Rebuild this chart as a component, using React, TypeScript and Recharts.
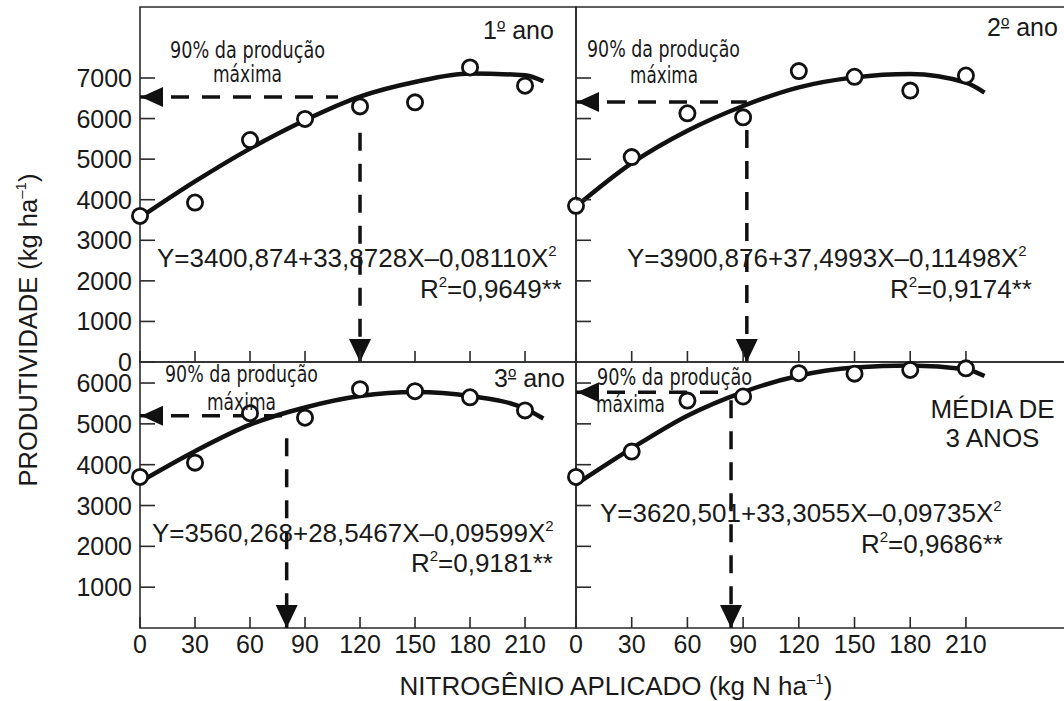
import React from 'react';
import {
  ComposedChart,
  Line,
  Scatter,
  XAxis,
  YAxis,
  ReferenceArea,
  ReferenceLine,
  ReferenceDot,
} from 'recharts';

// doses de N (kg N/ha)
const N_RATES = [0, 30, 60, 90, 120, 150, 180, 210];
const FIT_N = [0, 30, 60, 90, 120, 150, 180, 210, 220];

// produtividade observada (kg/ha)
const OBS_ANO1 = [3600, 3930, 5470, 5990, 6300, 6400, 7260, 6810];
const OBS_ANO2 = [3850, 5050, 6130, 6030, 7170, 7030, 6690, 7060];
const OBS_ANO3 = [3700, 4050, 5260, 5150, 5850, 5800, 5650, 5330];
const OBS_MEDIA = [3700, 4320, 5570, 5670, 6240, 6230, 6320, 6360];

// curva ajustada
const FIT_ANO1 = [3560, 4450, 5260, 5960, 6540, 6900, 7110, 7070, 6920];
const FIT_ANO2 = [3830, 4900, 5700, 6310, 6770, 7015, 7100, 6885, 6640];
const FIT_ANO3 = [3580, 4330, 4980, 5400, 5680, 5780, 5680, 5370, 5130];
const FIT_MEDIA = [3520, 4400, 5200, 5780, 6180, 6380, 6430, 6340, 6170];

// 90% da produção máxima: [produtividade, fim do tracejado horizontal, dose, início do tracejado vertical]
const MAX90_ANO1 = [6530, 108, 120, 5650];
const MAX90_ANO2 = [6410, 92, 92, 5720];
const MAX90_ANO3 = [5200, 79, 80, 4650];
const MAX90_MEDIA = [5775, 77, 83.5, 5580];

const X_TICKS = [0, 30, 60, 90, 120, 150, 180, 210];
const Y_TICKS_TOP = [0, 1000, 2000, 3000, 4000, 5000, 6000, 7000];
const Y_TICKS_BOTTOM = [1000, 2000, 3000, 4000, 5000, 6000];

const INK = '#1a1a1a';
const FRAME = '#2a2a2a';
const FONT = '"Liberation Sans", Arial, Helvetica, sans-serif';
const NARROW = '"Liberation Sans Narrow", "Arial Narrow", "DejaVu Sans Condensed", sans-serif';

const xTick = (labels: boolean) => (p: any) => (
  <g>
    <line x1={p.x} x2={p.x} y1={p.y} y2={p.y - 11} stroke={FRAME} strokeWidth={1.6} />
    {labels && (
      <text x={p.x} y={p.y + 25} textAnchor="middle" fontSize={25} fontFamily={FONT} fill={INK}>
        {p.payload.value}
      </text>
    )}
  </g>
);

const yTick = (labels: boolean) => (p: any) => (
  <g>
    <line x1={p.x} x2={p.x + 15} y1={p.y} y2={p.y} stroke={FRAME} strokeWidth={1.6} />
    {labels && (
      <text x={p.x - 8} y={p.y + 9} textAnchor="end" fontSize={25} fontFamily={FONT} fill={INK}>
        {p.payload.value}
      </text>
    )}
  </g>
);

const Ring = (p: any) => (
  <circle cx={p.cx} cy={p.cy} r={7.6} fill="#fff" stroke="#111" strokeWidth={2.8} />
);

const LeftHead = (p: any) => (
  <path d={`M${p.cx + 1} ${p.cy} L${p.cx + 23} ${p.cy - 10} L${p.cx + 23} ${p.cy + 10} Z`} fill="#111" />
);

const DownHead = (p: any) => (
  <path d={`M${p.cx} ${p.cy} L${p.cx - 11} ${p.cy - 23} L${p.cx + 11} ${p.cy - 23} Z`} fill="#111" />
);

type PanelProps = {
  width: number;
  margin: { top: number; right: number; bottom: number; left: number };
  xMax: number;
  yMax: number;
  yTicks: number[];
  yLabels: boolean;
  xLabels: boolean;
  obs: number[];
  fit: number[];
  max90: number[];
};

function Panel({ width, margin, xMax, yMax, yTicks, yLabels, xLabels, obs, fit, max90 }: PanelProps) {
  const obsData = N_RATES.map((n, i) => ({ n, y: obs[i] }));
  const fitData = FIT_N.map((n, i) => ({ n, y: fit[i] }));
  const [y90, hEnd, n90, vTop] = max90;
  // axis of 1px: plot edge = margin + 1
  const m = { ...margin, left: margin.left - 1, bottom: margin.bottom - 1 };
  return (
    <div style={{ position: 'absolute', left: 0, top: 0 }}>
      <ComposedChart width={width} height={701} margin={m}>
        <XAxis
          type="number"
          dataKey="n"
          domain={[0, xMax]}
          ticks={X_TICKS}
          interval={0}
          height={1}
          tickSize={0}
          tickMargin={0}
          axisLine={false}
          tickLine={false}
          tick={xTick(xLabels)}
        />
        <YAxis
          type="number"
          dataKey="y"
          domain={[0, yMax]}
          ticks={yTicks}
          interval={0}
          width={1}
          tickSize={0}
          tickMargin={0}
          axisLine={false}
          tickLine={false}
          tick={yTick(yLabels)}
        />
        <ReferenceArea x1={0} x2={xMax} y1={0} y2={yMax} fill="none" fillOpacity={0} stroke={FRAME} strokeWidth={1.6} />
        <ReferenceLine
          segment={[{ x: 0, y: y90 }, { x: hEnd, y: y90 }]}
          stroke="#111"
          strokeWidth={3.5}
          strokeDasharray="18 13"
        />
        <ReferenceLine
          segment={[{ x: n90, y: vTop }, { x: n90, y: 0 }]}
          stroke="#111"
          strokeWidth={3.5}
          strokeDasharray="18 13"
        />
        <ReferenceDot x={0} y={y90} shape={LeftHead} />
        <ReferenceDot x={n90} y={0} shape={DownHead} />
        <Line
          data={fitData}
          dataKey="y"
          type="monotone"
          stroke="#111"
          strokeWidth={4.5}
          dot={false}
          isAnimationActive={false}
        />
        <Scatter data={obsData} dataKey="y" shape={Ring} isAnimationActive={false} />
      </ComposedChart>
    </div>
  );
}

function Equation({ x, y, text }: { x: number; y: number; text: string }) {
  return (
    <text x={x} y={y} fontSize={26} fontFamily={FONT} fill={INK}>
      {text}
      <tspan dy={-11} fontSize={15}>2</tspan>
    </text>
  );
}

function R2({ x, y, value }: { x: number; y: number; value: string }) {
  return (
    <text x={x} y={y} fontSize={26} fontFamily={FONT} fill={INK} textAnchor="end">
      R<tspan dy={-11} fontSize={15}>2</tspan>
      <tspan dy={11}>={value}**</tspan>
    </text>
  );
}

function Note({ x, y, text, w, anchor = 'middle' }: { x: number; y: number; text: string; w: number; anchor?: string }) {
  return (
    <text
      x={x}
      y={y}
      fontSize={23}
      fontFamily={NARROW}
      fill={INK}
      textAnchor={anchor as any}
      textLength={w}
      lengthAdjust="spacingAndGlyphs"
    >
      {text}
    </text>
  );
}

function Ano({ x, y, n }: { x: number; y: number; n: string }) {
  return (
    <text x={x} y={y} fontSize={25} fontFamily={FONT} fill={INK}>
      {n}
      <tspan dy={-10} fontSize={15} textDecoration="underline">o</tspan>
      <tspan dy={10}> ano</tspan>
    </text>
  );
}

export default function App() {
  const topM = { top: 7, bottom: 339 };
  const botM = { top: 362, bottom: 73 };
  return (
    <div
      style={{
        position: 'fixed',
        left: 0,
        top: 0,
        width: 1064,
        height: 701,
        overflow: 'hidden',
        background: '#fff',
      }}
    >
      <Panel
        width={1064}
        margin={{ ...topM, left: 140, right: 488 }}
        xMax={237.8}
        yMax={8750}
        yTicks={Y_TICKS_TOP}
        yLabels
        xLabels={false}
        obs={OBS_ANO1}
        fit={FIT_ANO1}
        max90={MAX90_ANO1}
      />
      <Panel
        width={1120}
        margin={{ ...topM, left: 576, right: 20 }}
        xMax={282.2}
        yMax={8750}
        yTicks={Y_TICKS_TOP.slice(1)}
        yLabels={false}
        xLabels={false}
        obs={OBS_ANO2}
        fit={FIT_ANO2}
        max90={MAX90_ANO2}
      />
      <Panel
        width={1064}
        margin={{ ...botM, left: 140, right: 488 }}
        xMax={237.8}
        yMax={6515}
        yTicks={Y_TICKS_BOTTOM}
        yLabels
        xLabels
        obs={OBS_ANO3}
        fit={FIT_ANO3}
        max90={MAX90_ANO3}
      />
      <Panel
        width={1120}
        margin={{ ...botM, left: 576, right: 20 }}
        xMax={282.2}
        yMax={6515}
        yTicks={Y_TICKS_BOTTOM}
        yLabels={false}
        xLabels
        obs={OBS_MEDIA}
        fit={FIT_MEDIA}
        max90={MAX90_MEDIA}
      />

      <svg width={1064} height={701} style={{ position: 'absolute', left: 0, top: 0 }}>
        {/* 1º ano */}
        <Note x={247.5} y={58} w={155} text="90% da produção" />
        <Note x={247.5} y={82} w={69} text="máxima" />
        <Ano x={483} y={39} n="1" />
        <Equation x={157} y={267} text="Y=3400,874+33,8728X–0,08110X" />
        <R2 x={562} y={298} value="0,9649" />

        {/* 2º ano */}
        <Note x={663.5} y={57} w={153} text="90% da produção" />
        <Note x={664} y={83} w={68} text="máxima" />
        <Ano x={987} y={36} n="2" />
        <Equation x={627} y={267} text="Y=3900,876+37,4993X–0,11498X" />
        <R2 x={1032} y={298} value="0,9174" />

        {/* 3º ano */}
        <Note x={241.5} y={382} w={153} text="90% da produção" />
        <Note x={241.5} y={410} w={69} text="máxima" />
        <Ano x={494} y={387} n="3" />
        <Equation x={152} y={542} text="Y=3560,268+28,5467X–0,09599X" />
        <R2 x={553} y={572} value="0,9181" />

        {/* média */}
        <Note x={597} y={385} w={155} anchor="start" text="90% da produção" />
        <Note x={596} y={412} w={69} anchor="start" text="máxima" />
        <text x={992.5} y={418} fontSize={26} fontFamily={FONT} fill={INK} textAnchor="middle">MÉDIA DE</text>
        <text x={992.5} y={447} fontSize={26} fontFamily={FONT} fill={INK} textAnchor="middle">3 ANOS</text>
        <Equation x={600} y={522} text="Y=3620,501+33,3055X–0,09735X" />
        <R2 x={1003} y={553} value="0,9686" />

        {/* títulos dos eixos */}
        <text
          transform="translate(37,330) rotate(-90)"
          textAnchor="middle"
          fontSize={25.5}
          fontFamily={FONT}
          fill={INK}
        >
          PRODUTIVIDADE (kg ha<tspan dy={-11} fontSize={15}>–1</tspan>
          <tspan dy={11}>)</tspan>
        </text>
        <text x={616} y={695} textAnchor="middle" fontSize={26} fontFamily={FONT} fill={INK}>
          NITROGÊNIO APLICADO (kg N ha<tspan dy={-11} fontSize={15}>–1</tspan>
          <tspan dy={11}>)</tspan>
        </text>
      </svg>
    </div>
  );
}
